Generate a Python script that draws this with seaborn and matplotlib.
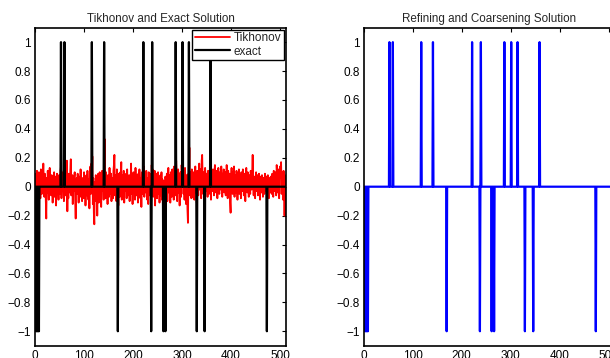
import numpy as np
import pandas as pd
import matplotlib
matplotlib.use("Agg")
import matplotlib.pyplot as plt
import seaborn as sns
from matplotlib.ticker import FuncFormatter

N = 512
# exact solution spikes (index, value)
exact_pos = [53, 60, 116, 141, 221, 239, 287, 301, 314, 358]
exact_neg = [2, 4, 6, 8, 169, 237, 262, 266, 330, 346, 473]
# refining and coarsening solution spikes
rc_pos = [52, 59, 117, 141, 221, 239, 287, 301, 314, 359]
rc_neg = [2, 4, 6, 8, 169, 237, 261, 266, 329, 346, 474]

tikhonov = [
    0.04, 0.09, -0.06, 0.11, 0.02, -0.12, 0.07, 0.10, -0.03, 0.05, -0.08, 0.12, 0.03, -0.05, 0.10, 0.06, 0.16, 0.02, -0.07, 0.09, 0.04, -0.10, -0.22, 0.06, -0.04, 0.11, 0.00, -0.09, 0.07, 0.13, -0.02, 0.05,
    -0.06, 0.08, 0.03, -0.11, 0.06, -0.02, 0.10, -0.07, 0.04, 0.07, -0.13, 0.02, 0.09, -0.04, 0.05, -0.09, 0.08, 0.01, -0.05, 0.11, 0.14, -0.08, 0.06, 0.10, -0.03, 0.07, -0.10, 0.37, 0.12, -0.06, 0.15, 0.04,
    0.18, -0.17, 0.05, -0.08, 0.09, 0.03, -0.04, 0.11, 0.19, -0.06, 0.02, 0.08, -0.12, 0.05, -0.03, 0.07, 0.10, -0.09, -0.22, 0.04, 0.06, -0.05, 0.09, 0.01, -0.11, 0.07, 0.03, -0.07, 0.12, -0.02, 0.05, -0.10,
    0.06, 0.02, -0.08, 0.10, -0.04, 0.07, -0.13, 0.03, 0.08, -0.06, 0.11, 0.00, -0.09, 0.05, -0.15, 0.09, 0.14, -0.05, 0.16, 0.04, 0.21, -0.12, 0.06, -0.18, -0.26, 0.03, -0.10, 0.08, -0.07, 0.05, -0.20, 0.02,
    0.09, -0.11, 0.04, 0.10, -0.06, 0.02, -0.14, 0.08, 0.11, -0.03, 0.06, -0.09, 0.12, 0.33, 0.07, -0.08, 0.10, -0.04, 0.03, -0.12, 0.08, 0.05, -0.07, 0.13, 0.01, -0.05, 0.09, -0.10, 0.06, 0.02, -0.08, 0.11,
    0.15, 0.22, -0.06, 0.08, 0.03, -0.10, 0.12, -0.04, 0.06, -0.13, 0.09, 0.02, -0.07, 0.10, 0.05, 0.17, -0.09, 0.04, 0.08, -0.05, 0.11, -0.11, 0.03, 0.07, -0.03, 0.09, -0.08, 0.12, 0.00, -0.06, 0.05, 0.08,
    -0.10, 0.06, 0.03, 0.16, -0.05, 0.09, -0.12, 0.04, 0.10, -0.02, 0.07, -0.09, 0.13, 0.01, -0.06, 0.08, 0.05, -0.11, 0.09, -0.03, 0.12, 0.04, -0.08, 0.06, -0.14, 0.10, 0.02, -0.05, 0.11, 0.14, -0.07, 0.05,
    0.08, -0.04, 0.11, 0.03, -0.09, 0.06, -0.12, 0.10, 0.02, -0.06, 0.09, 0.05, -0.10, 0.15, 0.04, 0.12, -0.07, 0.08, -0.03, 0.11, -0.13, 0.06, 0.01, 0.09, -0.08, 0.04, 0.10, -0.05, 0.07, -0.11, 0.03, 0.08,
    -0.06, 0.10, -0.09, 0.05, -0.15, -0.43, -0.12, 0.04, -0.08, 0.07, 0.02, -0.05, 0.09, -0.10, 0.06, 0.13, -0.04, 0.08, 0.03, -0.11, 0.10, 0.05, -0.07, 0.12, -0.02, 0.06, -0.09, 0.14, 0.04, -0.06, 0.11, 0.18,
    0.07, -0.10, 0.05, 0.12, -0.04, 0.09, -0.13, 0.03, 0.10, -0.07, 0.15, 0.08, 0.43, 0.11, -0.05, 0.06, -0.09, 0.13, 0.02, -0.12, 0.08, 0.04, -0.16, -0.25, 0.09, 0.05, 0.27, -0.06, 0.10, 0.03, -0.08, 0.12,
    0.05, -0.07, 0.10, 0.02, -0.09, 0.08, 0.14, -0.04, 0.06, -0.11, 0.11, 0.03, -0.06, 0.09, 0.16, -0.02, 0.07, 0.12, -0.08, 0.18, 0.22, 0.05, -0.05, 0.10, 0.04, -0.10, 0.13, 0.06, -0.03, 0.09, 0.01, -0.07,
    0.11, 0.04, -0.05, 0.08, 0.13, 0.02, -0.09, 0.10, 0.06, -0.03, 0.12, 0.07, -0.06, 0.09, 0.15, 0.03, -0.04, 0.11, 0.05, -0.08, 0.08, 0.13, 0.01, -0.05, 0.10, 0.06, -0.02, 0.14, 0.04, -0.07, 0.09, 0.03,
    0.12, -0.04, 0.07, 0.10, -0.06, 0.05, 0.15, 0.02, -0.08, 0.11, 0.06, -0.03, 0.09, -0.11, -0.18, 0.07, 0.13, 0.01, -0.05, 0.10, 0.04, 0.14, -0.07, 0.08, 0.03, -0.04, 0.11, 0.06, -0.09, 0.09, 0.02, 0.12,
    -0.05, 0.08, 0.04, -0.08, 0.10, 0.06, -0.03, 0.12, 0.02, -0.06, 0.09, 0.05, -0.10, 0.07, 0.13, 0.01, -0.04, 0.10, 0.06, -0.07, 0.08, 0.03, -0.05, 0.11, 0.04, -0.02, 0.09, 0.22, 0.05, -0.06, 0.07, 0.03,
    -0.08, 0.06, 0.10, -0.03, 0.05, 0.08, -0.06, 0.04, 0.09, 0.01, -0.09, 0.07, 0.03, -0.04, 0.08, 0.05, -0.07, 0.06, 0.02, -0.05, 0.09, 0.04, -0.03, 0.07, -0.06, 0.05, 0.08, 0.02, -0.08, 0.06, 0.03, -0.04,
    0.07, 0.02, -0.05, 0.09, 0.04, -0.07, 0.11, 0.06, -0.03, 0.10, 0.05, -0.06, 0.15, 0.08, -0.04, 0.12, 0.03, -0.08, 0.09, 0.14, 0.06, 0.17, -0.05, 0.10, 0.03, -0.09, 0.11, 0.07, -0.20, 0.08, -0.12, -0.20,
]

x_ticks = [0, 100, 200, 300, 400, 500]
y_ticks = [-1, -0.8, -0.6, -0.4, -0.2, 0, 0.2, 0.4, 0.6, 0.8, 1]


def spikes(pos, neg, n):
    v = np.zeros(n)
    v[np.array(pos) - 1] = 1
    v[np.array(neg) - 1] = -1
    return v


sns.set_theme(style="white")
plt.rcParams['font.family'] = ['Liberation Sans', 'DejaVu Sans']
plt.rcParams['axes.unicode_minus'] = True

idx = np.arange(1, len(tikhonov) + 1)
df = pd.DataFrame({
    "i": idx,
    "tik": tikhonov,
    "exact": spikes(exact_pos, exact_neg, len(tikhonov)),
    "rc": spikes(rc_pos, rc_neg, len(tikhonov)),
})

fig = plt.figure(figsize=(6.10, 3.58), dpi=100)
ax1 = fig.add_axes([35 / 610, 1 - 345.7 / 358, 251 / 610, (345.7 - 27.7) / 358])
ax2 = fig.add_axes([364 / 610, 1 - 345.7 / 358, 250.4 / 610, (345.7 - 27.7) / 358])

sns.lineplot(data=df, x="i", y="tik", ax=ax1, color="#ff0000", lw=1.3,
             label="Tikhonov", estimator=None)
sns.lineplot(data=df, x="i", y="exact", ax=ax1, color="black", lw=1.6,
             label="exact", estimator=None)
sns.lineplot(data=df, x="i", y="rc", ax=ax2, color="#0000ff", lw=1.6,
             estimator=None, legend=False)

fmt = FuncFormatter(lambda v, p: ("%g" % v).replace("-", "\u2212"))
for ax, title in [(ax1, "Tikhonov and Exact Solution"),
                  (ax2, "Refining and Coarsening Solution")]:
    ax.set_xlim(0, 512)
    ax.set_ylim(-1.1, 1.1)
    ax.set_xticks(x_ticks)
    ax.set_yticks(y_ticks)
    ax.yaxis.set_major_formatter(fmt)
    ax.set_xlabel("")
    ax.set_ylabel("")
    ax.set_title(title, fontsize=8.4, pad=4)
    ax.tick_params(direction="in", length=3, width=0.8, top=True, right=True,
                   labelsize=8.5, colors="black", pad=3)
    for s in ax.spines.values():
        s.set_color("black")
        s.set_linewidth(1.2)
    ax.grid(False)

leg = ax1.legend(loc="upper right", fontsize=8.5, frameon=True, fancybox=False,
                 edgecolor="black", framealpha=1, borderpad=0.2,
                 handlelength=3.0, handletextpad=0.3, labelspacing=0.1,
                 borderaxespad=0.2)
leg.get_frame().set_linewidth(1.0)

fig.savefig("out.png", dpi=100)
